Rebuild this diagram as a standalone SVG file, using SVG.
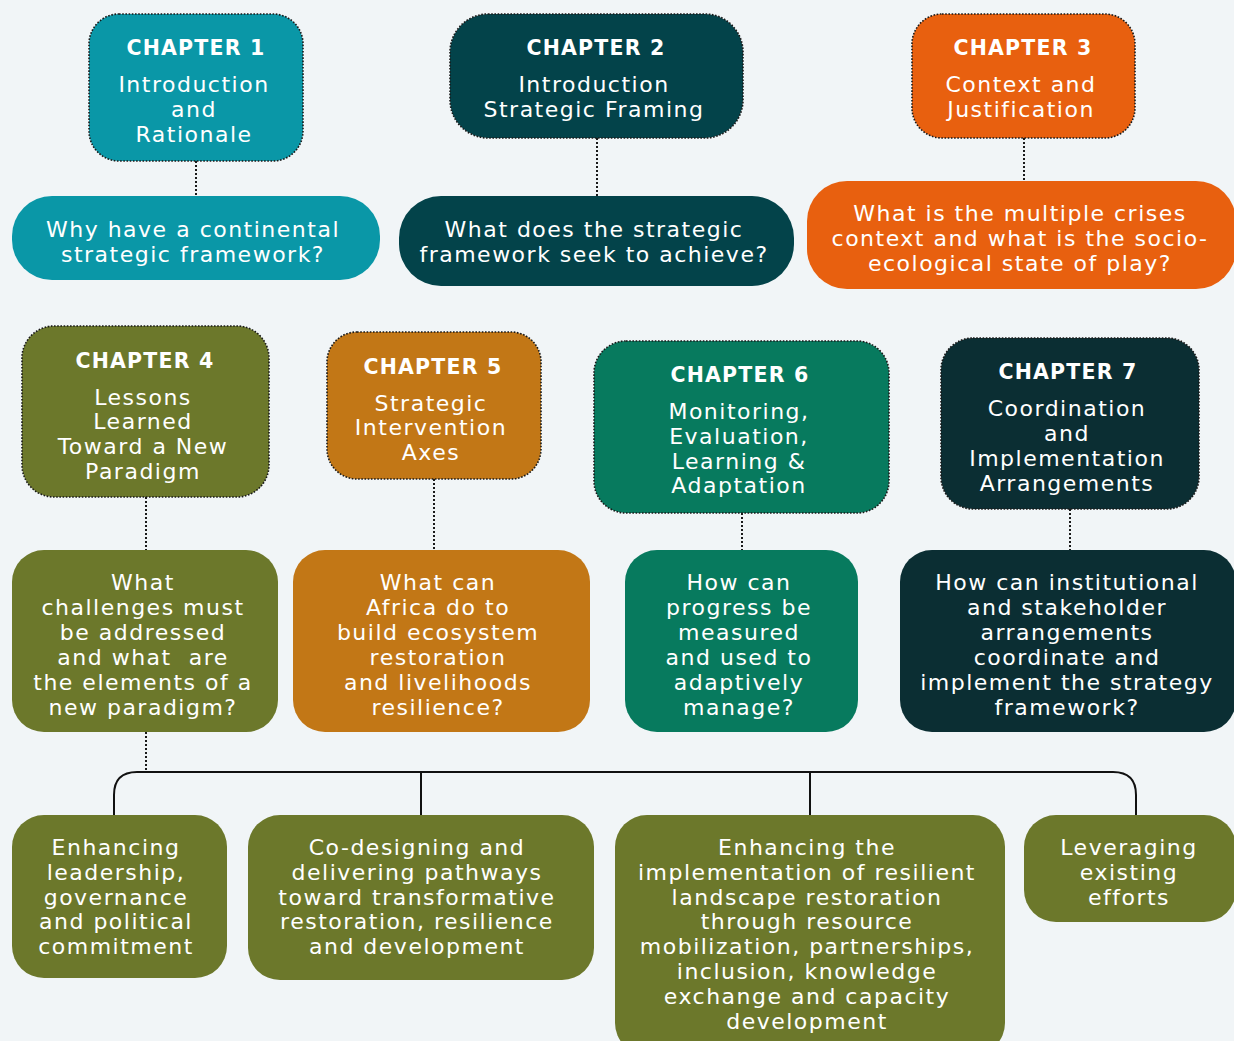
<svg xmlns="http://www.w3.org/2000/svg" width="1234" height="1041" viewBox="0 0 1234 1041">
  <style>
    .bg { fill: #f1f5f7; }
    .chap { stroke: #1a1a1a; stroke-width: 1.6; stroke-dasharray: 1.6 1.6; }
    .q { stroke: none; }
    .teal { fill: #0a97a7; }
    .petrol { fill: #03434a; }
    .orange { fill: #e8600f; }
    .olive { fill: #6c782b; }
    .ochre { fill: #c27716; }
    .green { fill: #077a5e; }
    .navy { fill: #0b2e33; }
    text { font-family: "DejaVu Sans", "Liberation Sans", sans-serif; fill: #ffffff; text-anchor: middle; font-size: 22px; letter-spacing: 1.5px; }
    .h { font-weight: bold; font-size: 20.5px; letter-spacing: 1.2px; }
    .dot { stroke: #1a1a1a; stroke-width: 2; stroke-dasharray: 2 2; fill: none; }
    .solid { stroke: #111111; stroke-width: 2; fill: none; }
  </style>

  <rect class="bg" x="0" y="0" width="1234" height="1041"/>

  <!-- connectors -->
  <g id="connectors">
    <path class="dot" d="M196,161 V196"/>
    <path class="dot" d="M597,138 V196"/>
    <path class="dot" d="M1024,138 V181"/>
    <path class="dot" d="M146,497 V550"/>
    <path class="dot" d="M434,479 V550"/>
    <path class="dot" d="M742,513 V550"/>
    <path class="dot" d="M1070,509 V550"/>
    <path class="dot" d="M146,732 V772"/>
    <path class="solid" d="M114,815 V795 Q114,772 137,772 H1113 Q1136,772 1136,795 V815"/>
    <path class="solid" d="M421,772 V815"/>
    <path class="solid" d="M810,772 V815"/>
  </g>

  <!-- chapter 1 -->
  <g id="ch1">
    <rect class="chap teal" x="89" y="14" width="214" height="147" rx="30"/>
    <text class="h" x="196" y="55">CHAPTER 1</text>
    <text x="194" y="92">Introduction</text>
    <text x="194" y="117">and</text>
    <text x="194" y="142">Rationale</text>
  </g>
  <g id="q1">
    <rect class="q teal" x="12" y="196" width="368" height="84" rx="40"/>
    <text x="193" y="237">Why have a continental</text>
    <text x="193" y="262">strategic framework?</text>
  </g>

  <!-- chapter 2 -->
  <g id="ch2">
    <rect class="chap petrol" x="450" y="14" width="293" height="124" rx="38"/>
    <text class="h" x="596" y="55">CHAPTER 2</text>
    <text x="594" y="92">Introduction</text>
    <text x="594" y="117">Strategic Framing</text>
  </g>
  <g id="q2">
    <rect class="q petrol" x="399" y="196" width="395" height="90" rx="42"/>
    <text x="594" y="237">What does the strategic</text>
    <text x="594" y="262">framework seek to achieve?</text>
  </g>

  <!-- chapter 3 -->
  <g id="ch3">
    <rect class="chap orange" x="912" y="14" width="223" height="124" rx="30"/>
    <text class="h" x="1023" y="55">CHAPTER 3</text>
    <text x="1021" y="92">Context and</text>
    <text x="1021" y="117">Justification</text>
  </g>
  <g id="q3">
    <rect class="q orange" x="807" y="181" width="429" height="108" rx="40"/>
    <text x="1020" y="221">What is the multiple crises</text>
    <text x="1020" y="246">context and what is the socio-</text>
    <text x="1020" y="271">ecological state of play?</text>
  </g>

  <!-- chapter 4 -->
  <g id="ch4">
    <rect class="chap olive" x="22" y="326" width="247" height="171" rx="32"/>
    <text class="h" x="145" y="368">CHAPTER 4</text>
    <text x="143" y="405">Lessons</text>
    <text x="143" y="429">Learned</text>
    <text x="143" y="454">Toward a New</text>
    <text x="143" y="479">Paradigm</text>
  </g>
  <g id="q4">
    <rect class="q olive" x="12" y="550" width="266" height="182" rx="32"/>
    <text x="143" y="590">What</text>
    <text x="143" y="615">challenges must</text>
    <text x="143" y="640">be addressed</text>
    <text x="143" y="665" xml:space="preserve">and what  are</text>
    <text x="143" y="690">the elements of a</text>
    <text x="143" y="715">new paradigm?</text>
  </g>

  <!-- chapter 5 -->
  <g id="ch5">
    <rect class="chap ochre" x="327" y="332" width="214" height="147" rx="30"/>
    <text class="h" x="433" y="374">CHAPTER 5</text>
    <text x="431" y="411">Strategic</text>
    <text x="431" y="435">Intervention</text>
    <text x="431" y="460">Axes</text>
  </g>
  <g id="q5">
    <rect class="q ochre" x="293" y="550" width="297" height="182" rx="32"/>
    <text x="438" y="590">What can</text>
    <text x="438" y="615">Africa do to</text>
    <text x="438" y="640">build ecosystem</text>
    <text x="438" y="665">restoration</text>
    <text x="438" y="690">and livelihoods</text>
    <text x="438" y="715">resilience?</text>
  </g>

  <!-- chapter 6 -->
  <g id="ch6">
    <rect class="chap green" x="594" y="341" width="295" height="172" rx="32"/>
    <text class="h" x="740" y="382">CHAPTER 6</text>
    <text x="739" y="419">Monitoring,</text>
    <text x="739" y="444">Evaluation,</text>
    <text x="739" y="469">Learning &amp;</text>
    <text x="739" y="493">Adaptation</text>
  </g>
  <g id="q6">
    <rect class="q green" x="625" y="550" width="233" height="182" rx="32"/>
    <text x="739" y="590">How can</text>
    <text x="739" y="615">progress be</text>
    <text x="739" y="640">measured</text>
    <text x="739" y="665">and used to</text>
    <text x="739" y="690">adaptively</text>
    <text x="739" y="715">manage?</text>
  </g>

  <!-- chapter 7 -->
  <g id="ch7">
    <rect class="chap navy" x="941" y="338" width="258" height="171" rx="32"/>
    <text class="h" x="1068" y="379">CHAPTER 7</text>
    <text x="1067" y="416">Coordination</text>
    <text x="1067" y="441">and</text>
    <text x="1067" y="466">Implementation</text>
    <text x="1067" y="491">Arrangements</text>
  </g>
  <g id="q7">
    <rect class="q navy" x="900" y="550" width="336" height="182" rx="32"/>
    <text x="1067" y="590">How can institutional</text>
    <text x="1067" y="615">and stakeholder</text>
    <text x="1067" y="640">arrangements</text>
    <text x="1067" y="665">coordinate and</text>
    <text x="1067" y="690">implement the strategy</text>
    <text x="1067" y="715">framework?</text>
  </g>

  <!-- strategic axes -->
  <g id="axis1">
    <rect class="q olive" x="12" y="815" width="215" height="163" rx="32"/>
    <text x="116" y="855">Enhancing</text>
    <text x="116" y="880">leadership,</text>
    <text x="116" y="905">governance</text>
    <text x="116" y="929">and political</text>
    <text x="116" y="954">commitment</text>
  </g>
  <g id="axis2">
    <rect class="q olive" x="248" y="815" width="346" height="165" rx="32"/>
    <text x="417" y="855">Co-designing and</text>
    <text x="417" y="880">delivering pathways</text>
    <text x="417" y="905">toward transformative</text>
    <text x="417" y="929">restoration, resilience</text>
    <text x="417" y="954">and development</text>
  </g>
  <g id="axis3">
    <rect class="q olive" x="615" y="815" width="390" height="240" rx="32"/>
    <text x="807" y="855">Enhancing the</text>
    <text x="807" y="880">implementation of resilient</text>
    <text x="807" y="905">landscape restoration</text>
    <text x="807" y="929">through resource</text>
    <text x="807" y="954">mobilization, partnerships,</text>
    <text x="807" y="979">inclusion, knowledge</text>
    <text x="807" y="1004">exchange and capacity</text>
    <text x="807" y="1029">development</text>
  </g>
  <g id="axis4">
    <rect class="q olive" x="1024" y="815" width="212" height="107" rx="32"/>
    <text x="1129" y="855">Leveraging</text>
    <text x="1129" y="880">existing</text>
    <text x="1129" y="905">efforts</text>
  </g>
</svg>
